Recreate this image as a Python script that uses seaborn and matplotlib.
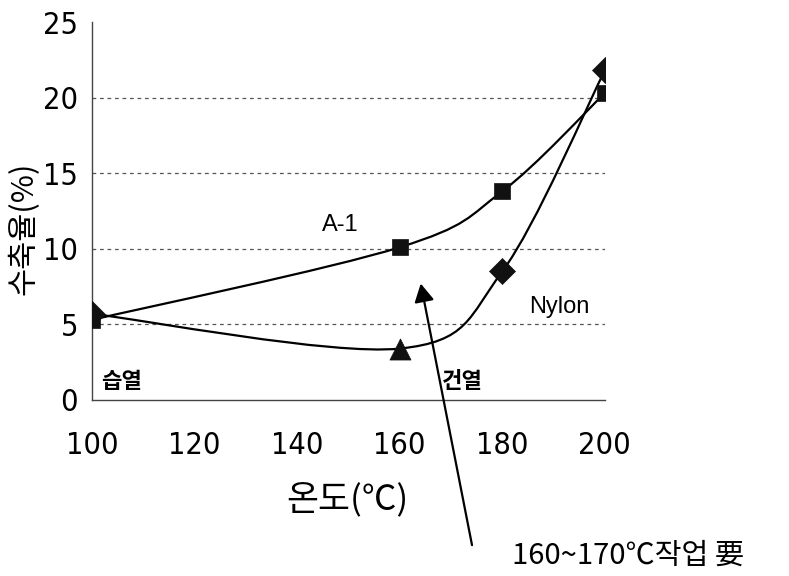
import numpy as np
import pandas as pd
import matplotlib
matplotlib.use("Agg")
import matplotlib.pyplot as plt
from matplotlib.path import Path
from matplotlib.patches import PathPatch
import seaborn as sns

# data
temps = [100, 160, 180, 200]
a1_values = [5.3, 10.1, 13.8, 20.3]
nylon_values = [5.7, 3.4, 8.5, 21.8]
nylon_markers = ["D", "^", "D", "D"]
x_ticks = [100, 120, 140, 160, 180, 200]
y_ticks = [0, 5, 10, 15, 20, 25]

sns.set_theme(style="white")
KR = ["Noto Sans CJK KR", "DejaVu Sans"]
plt.rcParams["font.family"] = KR
plt.rcParams["text.color"] = "black"


def smooth_path(xs, ys):
    """Excel-like smoothed line as cubic Bezier path through the points."""
    pts = np.column_stack([xs, ys]).astype(float)
    n = len(pts)
    verts = [pts[0]]
    codes = [Path.MOVETO]
    for i in range(n - 1):
        p0 = pts[max(i - 1, 0)]
        p1 = pts[i]
        p2 = pts[i + 1]
        p3 = pts[min(i + 2, n - 1)]
        c1 = p1 + (p2 - p0) / 6.0
        c2 = p2 - (p3 - p1) / 6.0
        verts += [c1, c2, p2]
        codes += [Path.CURVE4] * 3
    return Path(verts, codes)


df = pd.DataFrame({
    "temp": temps + temps,
    "value": a1_values + nylon_values,
    "series": ["A-1"] * 4 + ["Nylon"] * 4,
    "marker": ["s"] * 4 + nylon_markers,
})

fig = plt.figure(figsize=(7.89, 5.76), dpi=100)
ax = fig.add_axes([0.1166, 0.3056, 0.65, 0.6562])

for s in ["A-1", "Nylon"]:
    d = df[df.series == s]
    ax.add_patch(PathPatch(smooth_path(d.temp, d.value), facecolor="none",
                           edgecolor="black", lw=1.6, zorder=3))

sizes = {"s": 120, "D": 175, "^": 230}
for m, d in df.groupby("marker"):
    sns.scatterplot(data=d, x="temp", y="value", marker=m, s=sizes[m],
                    color="#111111", edgecolor="#111111", linewidth=0.5,
                    ax=ax, legend=False, zorder=4)

ax.set_xlim(100, 200)
ax.set_ylim(0, 25)
ax.set_xticks(x_ticks)
ax.set_yticks(y_ticks)
ax.set_xticklabels([str(t) for t in x_ticks], family="DejaVu Sans",
                   stretch="condensed", fontsize=22)
ax.set_yticklabels([str(t) for t in y_ticks], family="DejaVu Sans",
                   stretch="condensed", fontsize=22)
ax.tick_params(axis="x", direction="in", length=7, width=0.8, pad=22, colors="#333333",
               labelcolor="black")
ax.tick_params(axis="y", direction="in", length=5, width=0.8, pad=10, colors="#333333",
               labelcolor="black")

for v in y_ticks[1:-1]:
    ax.axhline(v, color="#555555", lw=0.9, ls=(0, (3, 3)), zorder=1)

for side in ["top", "right"]:
    ax.spines[side].set_visible(False)
for side in ["left", "bottom"]:
    ax.spines[side].set_color("#444444")
    ax.spines[side].set_linewidth(1.0)

ax.set_xlabel("")
ax.set_ylabel("")
fig.text(0.44, 0.132, "온도(℃)", fontsize=25, ha="center", va="center")
fig.text(0.030, 0.604, "수축율(%)", fontsize=22, rotation=90, ha="center", va="center")

ax.text(148.5, 11.6, "A-1", fontsize=17, ha="center", va="center", family="Liberation Sans")
ax.text(191.2, 6.15, "Nylon", fontsize=17, ha="center", va="center", family="Liberation Sans")
ax.text(101.8, 1.2, "습열", fontsize=16, ha="left", va="center", weight="bold")
ax.text(168.3, 1.2, "건열", fontsize=16, ha="left", va="center", weight="bold")

ax.annotate("", xy=(164.1, 7.7), xytext=(174.1, -9.6), annotation_clip=False,
            arrowprops=dict(arrowstyle="-|>,head_length=1.1,head_width=0.6",
                            mutation_scale=10, color="black", lw=1.6,
                            shrinkA=0, shrinkB=0))
fig.text(0.649, 0.036, "160~170℃작업 要", fontsize=21, ha="left", va="center")

fig.savefig("out.png", dpi=100)
